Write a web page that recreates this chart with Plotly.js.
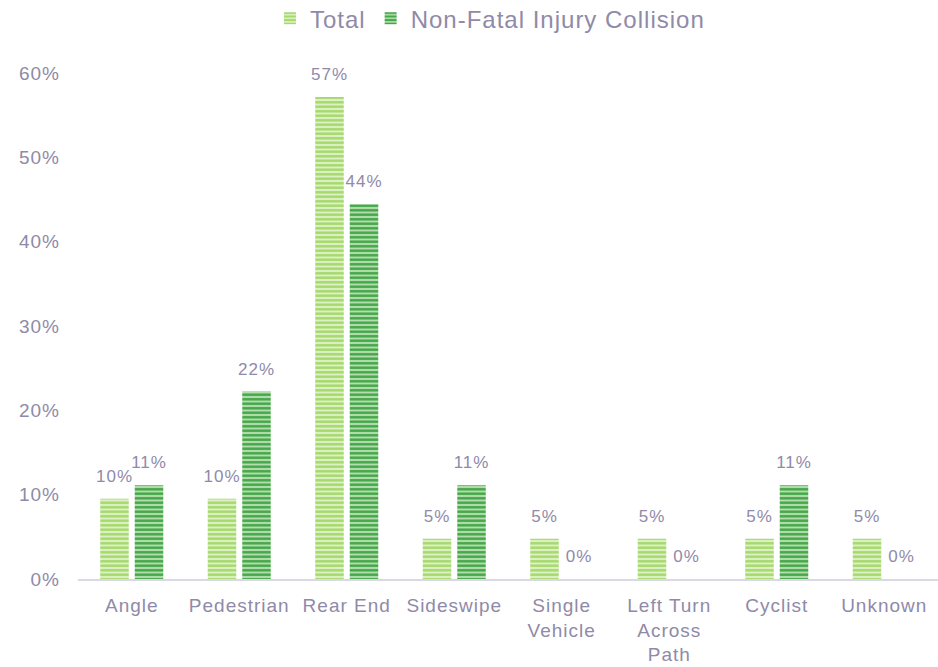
<!DOCTYPE html>
<html>
<head>
<meta charset="utf-8">
<script src="https://cdn.plot.ly/plotly-3.0.1.min.js"></script>
<style>
html,body{margin:0;padding:0;background:#fff;letter-spacing:1px;}
#chart{width:938px;height:667px;}
</style>
</head>
<body>
<div id="chart"></div>
<script>
const categories = ["Angle", "Pedestrian", "Rear End", "Sideswipe", "Single<br>Vehicle", "Left Turn<br>Across<br>Path", "Cyclist", "Unknown"];
const totalValues = [9.52, 9.52, 57.14, 4.76, 4.76, 4.76, 4.76, 4.76];
const nonFatalValues = [11.11, 22.22, 44.44, 11.11, 0, 0, 11.11, 0];
const seriesNames = ["Total", "Non-Fatal Injury Collision"];

const txtColor = "#8f8aa8";
const font = "Liberation Sans, Arial, sans-serif";

const traces = [
  {
    type: "bar", name: seriesNames[0], x: categories, y: totalValues,
    marker: { color: "#dcf1c4", line: {width: 0}, pattern: { shape: "-", fgcolor: "#a6d86c", bgcolor: "#dcf1c4", fgopacity: 1, size: 4.5, solidity: 0.55, fillmode: "overlay" } },
    texttemplate: "%{y:.0f}%", textposition: "outside", cliponaxis: false, constraintext: "none",
    textfont: { color: txtColor, size: 17, family: font }
  },
  {
    type: "bar", name: seriesNames[1], x: categories, y: nonFatalValues,
    marker: { color: "#b3deae", line: {width: 0}, pattern: { shape: "-", fgcolor: "#44a648", bgcolor: "#b3deae", fgopacity: 1, size: 4.5, solidity: 0.55, fillmode: "overlay" } },
    texttemplate: "%{y:.0f}%", textposition: "outside", cliponaxis: false, constraintext: "none",
    textfont: { color: txtColor, size: 17, family: font }
  }
];

const layout = {
  width: 938, height: 667,
  margin: { l: 78, r: 0, t: 73, b: 88, autoexpand: false },
  paper_bgcolor: "#fff", plot_bgcolor: "#fff",
  font: { family: font, color: txtColor, size: 19 },
  barmode: "group", bargap: 0.358, bargroupgap: 0.174,
  showlegend: true,
  legend: { orientation: "h", x: 0.479, xanchor: "center", yref: "container", y: 0.972, yanchor: "middle", font: { size: 24, color: txtColor }, itemwidth: 30 },
  xaxis: { showline: true, linecolor: "#d9d8e3", linewidth: 2, ticks: "", tickfont: { size: 19, color: txtColor }, automargin: false, ticklabelstandoff: 8 },
  yaxis: { range: [0, 60], dtick: 10, ticksuffix: "%", showgrid: false, zeroline: false, showline: false, tickfont: { size: 19, color: txtColor }, automargin: false, ticklabelstandoff: 17 }
};

Plotly.newPlot("chart", traces, layout, { displayModeBar: false, staticPlot: true }).then(function (gd) {
  // lift the bar value labels a little further above the bars
  gd.querySelectorAll("text.bartext").forEach(function (t) {
    const tr = t.getAttribute("transform") || "";
    t.setAttribute("transform", "translate(0,-10) " + tr);
  });
});
</script>
</body>
</html>
